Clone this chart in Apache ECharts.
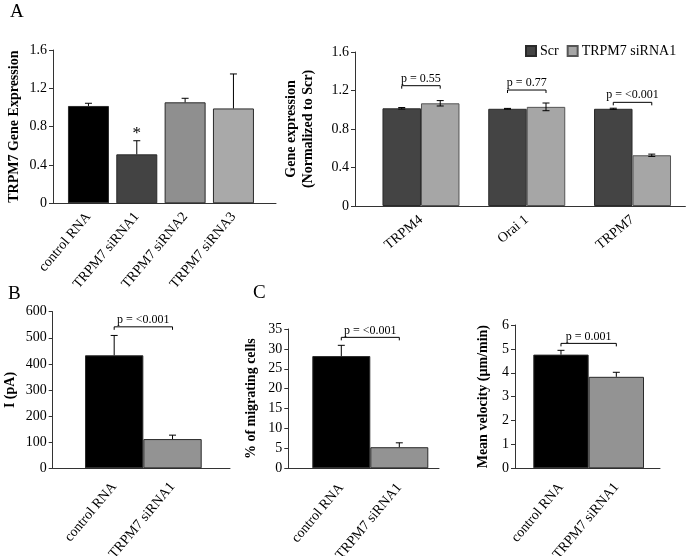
<!DOCTYPE html>
<html><head><meta charset="utf-8">
<script src="https://cdn.jsdelivr.net/npm/echarts@6/dist/echarts.min.js"></script>
<style>html,body{margin:0;padding:0;background:#fff}#c{width:688px;height:556px}</style>
</head><body><div id="c"></div>
<script>
// ---------- DATA ----------
// Panel A (left): TRPM7 gene expression
var aCats = ['control RNA', 'TRPM7 siRNA1', 'TRPM7 siRNA2', 'TRPM7 siRNA3'];
var aVals = [1.016, 0.511, 1.054, 0.99];
var aErrs = [0.028, 0.142, 0.042, 0.36];
var aMarks = ['', '*', '', ''];

// Panel A (right): gene expression normalized to Scr
var genes = ['TRPM4', 'Orai 1', 'TRPM7'];
var seriesNames = ['Scr', 'TRPM7 siRNA1'];
var scrVals = [1.015, 1.01, 1.01];
var scrErrs = [0.008, 0.004, 0.006];
var sirVals = [1.067, 1.03, 0.527];
var sirErrs = [0.028, 0.04, 0.012];
var geneP = ['p = 0.55', 'p = 0.77', 'p = <0.001'];
var geneBracket = [1.25, 1.205, 1.077];

// Panels B and C: two groups
var twoCats = ['control RNA', 'TRPM7 siRNA1'];
var currVals = [433, 112];
var currErrs = [76, 15];
var currP = ['p = <0.001'];
var currBracket = [542];

var migVals = [28.2, 5.3];
var migErrs = [2.7, 1.1];
var migP = ['p = <0.001'];
var migBracket = [32.9];

var velVals = [4.76, 3.83];
var velErrs = [0.18, 0.19];
var velP = ['p = 0.001'];
var velBracket = [5.23];

// ---------- STYLE / LAYOUT ----------
var SERIF = "'Liberation Serif','Times New Roman',serif";
var AXC = '#333';
var aColors = ['#000000', '#434343', '#8f8f8f', '#a9a9a9'];
var twoColors = ['#000000', '#939393'];

// pixel layouts: yAxis line x, grid left/right, top/bottom, x-line end, label placement
var L = {
  A1: {ax: 53, l: 64.3, r: 257.6, t: 50, b: 203.3, end: 276, max: 1.6, iv: 0.4, name: 'TRPM7 Gene Expression', gap: 30, rot: 50, mg: 11, pad: 0},
  A2: {ax: 355, l: 368.1, r: 685.4, t: 52, b: 206, end: 685.4, max: 1.6, iv: 0.4, name: 'Gene expression\n(Normalized to Scr)', gap: 38, rot: 40, mg: 12, pad: 0},
  B:  {ax: 52.7, l: 85, r: 201.7, t: 311.7, b: 468.3, end: 230, max: 600, iv: 100, name: 'I (pA)', gap: 34, rot: 50, mg: 16, pad: 21},
  C1: {ax: 288.3, l: 312.3, r: 428.3, t: 329, b: 468.3, end: 439, max: 35, iv: 5, name: '% of migrating cells', gap: 28, rot: 50, mg: 17, pad: 12},
  C2: {ax: 515, l: 533.3, r: 644, t: 325, b: 468.3, end: 660, max: 6, iv: 1, name: 'Mean velocity (\u00b5m/min)', gap: 23, rot: 50, mg: 16.5, pad: 8}
};
var order = ['A1', 'A2', 'B', 'C1', 'C2'];
var cats = {A1: aCats, A2: genes, B: twoCats, C1: twoCats, C2: twoCats};

var grids = [], xAxes = [], yAxes = [];
order.forEach(function (k, i) {
  var p = L[k];
  grids.push({left: p.l, top: p.t, width: p.r - p.l, height: p.b - p.t, outerBoundsMode: 'none', containLabel: false});
  xAxes.push({
    type: 'category', gridIndex: i, data: cats[k],
    axisLine: {show: false}, axisTick: {show: false},
    axisLabel: {rotate: p.rot, interval: 0, margin: p.mg, padding: [p.pad, 0, 0, 0], fontFamily: SERIF, fontSize: 14, color: '#000'}
  });
  yAxes.push({
    type: 'value', gridIndex: i, min: 0, max: p.max, interval: p.iv, offset: p.l - p.ax,
    axisLine: {show: true, lineStyle: {color: AXC, width: 1}},
    axisTick: {show: true, inside: false, length: 4, lineStyle: {color: AXC}},
    splitLine: {show: false},
    axisLabel: {fontFamily: SERIF, fontSize: 14, color: '#000', margin: 6},
    name: p.name, nameLocation: 'middle', nameGap: p.gap,
    nameTextStyle: {fontFamily: SERIF, fontSize: 14, fontWeight: 'bold', color: '#000', lineHeight: 17}
  });
});
// full-length baseline axes
order.forEach(function (k, i) {
  var p = L[k];
  grids.push({left: p.ax, top: p.t, width: p.end - p.ax, height: p.b - p.t, outerBoundsMode: 'none', containLabel: false});
  xAxes.push({type: 'value', gridIndex: 5 + i, min: 0, max: 1,
    axisLine: {show: true, lineStyle: {color: AXC, width: 1}}, axisTick: {show: false}, axisLabel: {show: false}, splitLine: {show: false}});
  yAxes.push({type: 'value', gridIndex: 5 + i, min: 0, max: 1, show: false});
});

function errRenderer(offset, twoSided, marks) {
  return function (params, api) {
    var i = api.value(0), v = api.value(1), e = api.value(2);
    var base = api.coord([i, v]);
    var top = api.coord([i, v + e])[1];
    var x = base[0] + offset;
    var y0 = twoSided ? api.coord([i, v - e])[1] : base[1];
    var st = {stroke: '#000', lineWidth: 1};
    var ch = [
      {type: 'line', shape: {x1: x, y1: y0, x2: x, y2: top}, style: st},
      {type: 'line', shape: {x1: x - 3.5, y1: top, x2: x + 3.5, y2: top}, style: st}
    ];
    if (twoSided) ch.push({type: 'line', shape: {x1: x - 3.5, y1: y0, x2: x + 3.5, y2: y0}, style: st});
    if (marks && marks[params.dataIndex]) {
      ch.push({type: 'text', style: {text: marks[params.dataIndex], x: x, y: top - 7, align: 'center', verticalAlign: 'middle', fontFamily: SERIF, fontSize: 17, fill: '#000'}});
    }
    return {type: 'group', children: ch};
  };
}
function bracketRenderer(labels, within, half) {
  return function (params, api) {
    var i = api.value(0), lv = api.value(1);
    var x1, x2, y;
    if (within) {
      var c = api.coord([i, lv]);
      x1 = c[0] - half; x2 = c[0] + half; y = c[1];
    } else {
      var c1 = api.coord([0, lv]), c2 = api.coord([1, lv]);
      x1 = c1[0]; x2 = c2[0]; y = c1[1];
    }
    return {type: 'group', children: [
      {type: 'polyline', shape: {points: [[x1, y + 3], [x1, y], [x2, y], [x2, y + 3]]}, style: {stroke: '#000', lineWidth: 1, fill: null}},
      {type: 'text', style: {text: labels[params.dataIndex], x: (x1 + x2) / 2, y: y - 1, align: 'center', verticalAlign: 'bottom', fontFamily: SERIF, fontSize: 12, fill: '#000'}}
    ]};
  };
}
function errData(vals, errs) { return vals.map(function (v, i) { return [i, v, errs[i]]; }); }
function brData(levels) { return levels.map(function (v, i) { return [i, v]; }); }

var A2W = 38.5;
var series = [
  // A1
  {type: 'bar', xAxisIndex: 0, yAxisIndex: 0, data: aVals, barWidth: 41,
    itemStyle: {color: function (p) { return aColors[p.dataIndex]; }, borderColor: '#2a2a2a', borderWidth: 1}},
  {type: 'custom', xAxisIndex: 0, yAxisIndex: 0, data: errData(aVals, aErrs), renderItem: errRenderer(0, false, aMarks), z: 5},
  // A2
  {type: 'bar', name: seriesNames[0], xAxisIndex: 1, yAxisIndex: 1, data: scrVals, barWidth: A2W, barGap: '0%',
    itemStyle: {color: '#444444', borderColor: '#2a2a2a', borderWidth: 1}},
  {type: 'bar', name: seriesNames[1], xAxisIndex: 1, yAxisIndex: 1, data: sirVals, barWidth: A2W, barGap: '0%',
    itemStyle: {color: '#a6a6a6', borderColor: '#555', borderWidth: 1}},
  {type: 'custom', xAxisIndex: 1, yAxisIndex: 1, data: errData(scrVals, scrErrs), renderItem: errRenderer(-A2W / 2, true), z: 5},
  {type: 'custom', xAxisIndex: 1, yAxisIndex: 1, data: errData(sirVals, sirErrs), renderItem: errRenderer(A2W / 2, true), z: 5},
  {type: 'custom', xAxisIndex: 1, yAxisIndex: 1, data: brData(geneBracket), renderItem: bracketRenderer(geneP, true, A2W / 2), z: 5}
];
[['B', 2, currVals, currErrs, currP, currBracket], ['C1', 3, migVals, migErrs, migP, migBracket], ['C2', 4, velVals, velErrs, velP, velBracket]].forEach(function (s) {
  var idx = s[1];
  series.push({type: 'bar', xAxisIndex: idx, yAxisIndex: idx, data: s[2], barCategoryGap: '0%',
    itemStyle: {color: function (p) { return twoColors[p.dataIndex]; }, borderColor: '#2a2a2a', borderWidth: 1}});
  series.push({type: 'custom', xAxisIndex: idx, yAxisIndex: idx, data: errData(s[2], s[3]), renderItem: errRenderer(0, false), z: 5});
  series.push({type: 'custom', xAxisIndex: idx, yAxisIndex: idx, data: brData(s[5]), renderItem: bracketRenderer(s[4], false), z: 5});
});

var chart = echarts.init(document.getElementById('c'), null, {renderer: 'canvas'});
chart.setOption({
  backgroundColor: '#fff',
  animation: false,
  title: [
    {text: 'A', left: 10, top: 3, padding: 0, textStyle: {fontFamily: SERIF, fontSize: 19, fontWeight: 'normal', color: '#000'}},
    {text: 'B', left: 8, top: 285, padding: 0, textStyle: {fontFamily: SERIF, fontSize: 19, fontWeight: 'normal', color: '#000'}},
    {text: 'C', left: 253, top: 284, padding: 0, textStyle: {fontFamily: SERIF, fontSize: 19, fontWeight: 'normal', color: '#000'}}
  ],
  legend: {data: seriesNames, left: 525, top: 44, padding: 0, icon: 'rect', itemWidth: 10, itemHeight: 10, itemGap: 8,
    textStyle: {fontFamily: SERIF, fontSize: 14, color: '#000', padding: [0, 0, 0, -1]}},
  grid: grids, xAxis: xAxes, yAxis: yAxes, series: series
});
</script></body></html>
